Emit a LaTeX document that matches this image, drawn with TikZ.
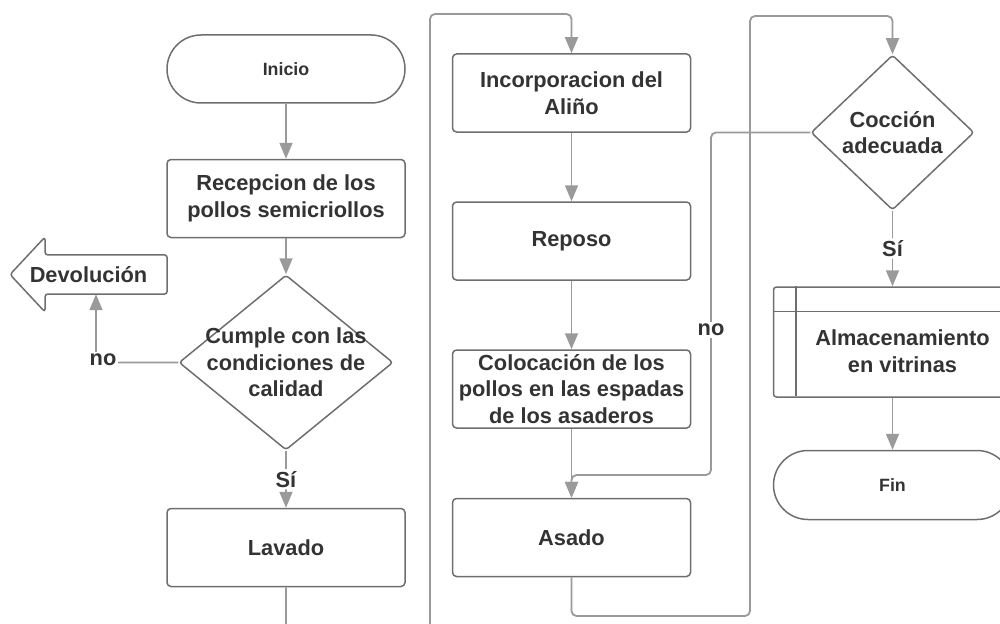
\documentclass[tikz,border=0pt]{standalone}
\usepackage{fontspec}
\setmainfont{Liberation Sans}
\usetikzlibrary{shapes.geometric,shapes.misc,arrows.meta}
\definecolor{conngray}{HTML}{9A9A9A}
\definecolor{bordgray}{HTML}{6E6E6E}
\definecolor{txtc}{HTML}{333333}
\begin{document}
\begin{tikzpicture}[x=1pt,y=-1pt,
 txt/.style={font=\fontsize{21.8}{26.5}\selectfont\bfseries, text=txtc, align=center},
 box/.style={draw=bordgray, line width=1.5pt, rounded corners=4pt, minimum width=238pt, minimum height=78pt, inner sep=0pt, txt},
 term/.style={draw=bordgray, line width=1.5pt, rounded rectangle, minimum width=238pt, inner sep=0pt, font=\fontsize{17.8}{20}\selectfont\bfseries, text=txtc},
 dia/.style={draw=bordgray, line width=1.5pt, diamond, inner sep=0pt, rounded corners=3pt},
 conn/.style={draw=conngray, line width=1.8pt, rounded corners=5pt, -{Triangle[length=16pt,width=13pt]}},
 lbl/.style={txt, fill=white, inner sep=2pt}
]
\useasboundingbox (0,0) rectangle (1000,623);
\clip (0,0) rectangle (1000,623);

% column 1
\node[term, minimum height=68pt] (ini) at (286,69) {Inicio};
\node[box] (rec) at (286,198.5) {Recepcion de los\\pollos semicriollos};
\node[dia, minimum width=214pt, minimum height=175pt,
      label={[txt]center:{Cumple con las\\condiciones de\\calidad}}] (cum) at (286,362.5) {};
\node[box] (lav) at (286,547.5) {Lavado};
\node[txt, minimum width=157pt, minimum height=39pt, inner sep=0pt] (dev) at (88.5,274.5) {Devoluci\'on};
\draw[draw=bordgray, line width=1.5pt, rounded corners=3pt]
  (dev.north east) -- (45,255) -- (45,237) -- (10,274.5) -- (45,312) -- (45,294) -- (dev.south east) -- cycle;

% column 2
\node[box] (inc) at (571.5,93) {Incorporacion del\\Ali\~no};
\node[box] (rep) at (571.5,241) {Reposo};
\node[box] (col) at (571.5,389) {Colocaci\'on de los\\pollos en las espadas\\de los asaderos};
\node[box] (asa) at (571.5,537.5) {Asado};

% column 3
\node[dia, minimum width=163pt, minimum height=155pt,
      label={[txt]center:{Cocci\'on\\adecuada}}] (coc) at (892.5,132.5) {};
\node[draw=bordgray, line width=1.5pt, rounded corners=3pt, minimum width=238pt, minimum height=110pt, inner sep=0pt,
      label={[txt, xshift=10pt, yshift=-9pt]center:{Almacenamiento\\en vitrinas}}] (alm) at (892.5,342) {};
\draw[draw=bordgray, line width=1.5pt] (alm.north west) ++(23,0) -- ++(0,110);
\draw[draw=bordgray, line width=1.5pt] (alm.north west) ++(0,25) -- ++(238,0);
\node[term, minimum height=69pt] (fin) at (892.5,485) {Fin};

% connectors
\draw[conn] (ini.south) -- (rec.north);
\draw[conn] (rec.south) -- (cum.north);
\draw[conn] (cum.west) -| (96,0 |- dev.south);
\node[lbl] (no1) at (103,360) {no};
\draw[conn] (cum.south) -- node[lbl] (si1) {S\'i} (lav.north);
\draw[conn] (lav.south) -- (286,650) -| (430,14) -| (inc.north);
\draw[conn] (inc.south) -- (rep.north);
\draw[conn] (rep.south) -- (col.north);
\draw[conn] (col.south) -- (asa.north);
\draw[conn] (coc.west) -| (711,475) -| (asa.north);
\node[lbl] (no2) at (711,330) {no};
\draw[conn] (asa.south) |- (750,616) -- (750,16) -| (coc.north);
\draw[conn] (coc.south) -- node[lbl] (si2) {S\'i} (alm.north);
\draw[conn] (alm.south) -- (fin.north);
\end{tikzpicture}
\end{document}
